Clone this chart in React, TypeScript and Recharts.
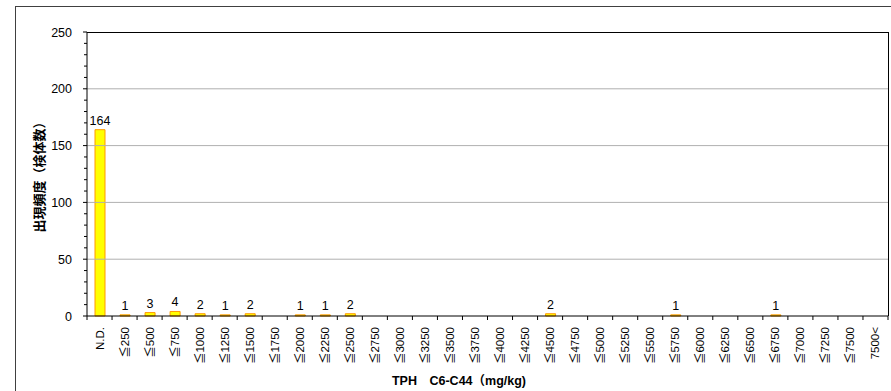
import { BarChart, Bar, XAxis, YAxis, ReferenceLine, LabelList } from 'recharts'

const categories = [
  'N.D.', '≦250', '≦500', '≦750', '≦1000', '≦1250', '≦1500', '≦1750', '≦2000', '≦2250', '≦2500',
  '≦2750', '≦3000', '≦3250', '≦3500', '≦3750', '≦4000', '≦4250', '≦4500', '≦4750', '≦5000',
  '≦5250', '≦5500', '≦5750', '≦6000', '≦6250', '≦6500', '≦6750', '≦7000', '≦7250', '≦7500', '7500<',
]
const counts = [
  164, 1, 3, 4, 2, 1, 2, 0, 1, 1, 2,
  0, 0, 0, 0, 0, 0, 0, 2, 0, 0,
  0, 0, 1, 0, 0, 0, 1, 0, 0, 0, 0,
]
const yTicks = [
  0, 10, 20, 30, 40, 50, 60, 70, 80, 90, 100, 110, 120, 130, 140, 150, 160, 170, 180, 190,
  200, 210, 220, 230, 240, 250,
]
const gridValues = [50, 100, 150, 200]

const data = categories.map((name, i) => ({ name, count: counts[i] }))

const FONT = 'Arial, "Liberation Sans", "Noto Sans CJK JP", sans-serif'

function XTick(props: any) {
  const { x, y, payload, index } = props
  const half = payload.offset ?? 12.5
  return (
    <g transform={`translate(${x},${y})`}>
      <line x1={-half} x2={-half} y1={0} y2={4} stroke="#000" />
      {index === categories.length - 1 && <line x1={half} x2={half} y1={0} y2={4} stroke="#000" />}
      <text transform="rotate(-90)" x={-11} y={4} textAnchor="end" fontSize={11.5} fontFamily={FONT} fill="#000">
        {payload.value}
      </text>
    </g>
  )
}

function YTick(props: any) {
  const { x, y, payload } = props
  const major = payload.value % 50 === 0
  return (
    <g>
      <line x1={x - (major ? 4 : 3)} x2={x} y1={y} y2={y} stroke="#000" />
      {major && (
        <text x={x - 15} y={y} dy={4.5} textAnchor="end" fontSize={12.5} fontFamily={FONT} fill="#000">
          {payload.value}
        </text>
      )}
    </g>
  )
}

export default function App() {
  return (
    <div style={{ position: 'fixed', left: 0, top: 0, width: 891, height: 391, overflow: 'hidden', background: '#fff' }}>
      <div style={{ position: 'absolute', left: 15, top: 6, width: 900, height: 420, border: '1px solid #404040' }} />
      <div style={{ position: 'absolute', left: 0, top: 0 }}>
        <BarChart width={891} height={391} data={data} margin={{ top: 32, right: 3, left: 0, bottom: 0 }}>
          {gridValues.map((v) => (
            <ReferenceLine key={v} y={v} stroke="#b0b0b0" />
          ))}
          <XAxis dataKey="name" interval={0} height={75} tickSize={0} tickMargin={0} tickLine={false}
            axisLine={{ stroke: '#000' }} tick={<XTick />} />
          <YAxis width={87} domain={[0, 250]} ticks={yTicks} interval={0} tickSize={0} tickMargin={0}
            tickLine={false} axisLine={{ stroke: '#000' }} tick={<YTick />} />
          <Bar dataKey="count" fill="#ffff00" stroke="#ff9900" barSize={10} isAnimationActive={false}>
            <LabelList dataKey="count" position="top" offset={5} fontSize={12.5} fontFamily={FONT} fill="#000"
              formatter={(v: any) => (v ? v : '')} />
          </Bar>
        </BarChart>
      </div>
      {/* plot frame: top and right edges */}
      <div style={{ position: 'absolute', left: 87, top: 31.5, width: 802, height: 284.5, boxSizing: 'border-box',
        borderTop: '1.5px solid #000', borderRight: '1.5px solid #000', zIndex: 5 }} />
      <div style={{ position: 'absolute', left: 38, top: 174, transform: 'translate(-50%,-50%) rotate(-90deg)',
        whiteSpace: 'nowrap', fontFamily: FONT, fontWeight: 'bold', fontSize: 13, color: '#000' }}>
        出現頻度（検体数）
      </div>
      <div style={{ position: 'absolute', left: 459, top: 379, transform: 'translate(-50%,-50%)',
        whiteSpace: 'nowrap', fontFamily: FONT, fontWeight: 'bold', fontSize: 12.5, color: '#000' }}>
        TPH　C6-C44（mg/kg)
      </div>
    </div>
  )
}
